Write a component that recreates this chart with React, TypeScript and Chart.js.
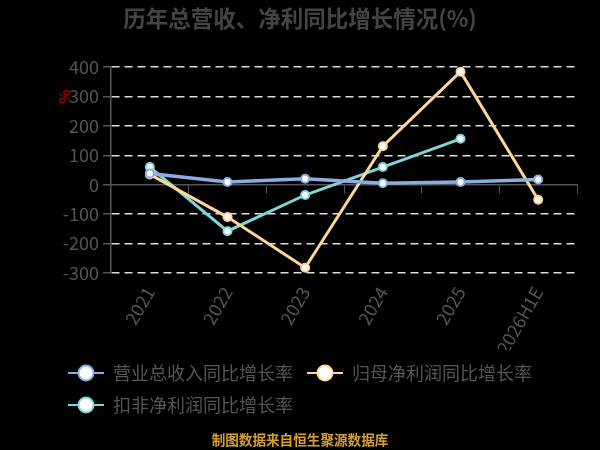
import { useEffect, useRef } from "react";
import Chart from "chart.js/auto";

const categories = ["2021", "2022", "2023", "2024", "2025", "2026H1E"];
const revenueGrowth = [38, 9, 20, 5, 9, 18];
const netProfitGrowth = [35, -110, -282, 131, 384, -51];
const deductedProfitGrowth = [60, -158, -35, 60, 156, null];
const yTicks = [-300, -200, -100, 0, 100, 200, 300, 400];

const FONT = '"Noto Sans CJK SC", "Noto Sans", sans-serif';
const TEXT = "#555";

// legend marker: short line with a hollow circle on it
function legendMarker(color: string) {
  const c = document.createElement("canvas");
  c.width = 36;
  c.height = 20;
  const g = c.getContext("2d")!;
  g.strokeStyle = color;
  g.lineWidth = 2;
  g.beginPath();
  g.moveTo(0, 10);
  g.lineTo(36, 10);
  g.stroke();
  g.beginPath();
  g.arc(18, 10, 7.5, 0, Math.PI * 2);
  g.fillStyle = "#fff";
  g.fill();
  g.stroke();
  return c;
}

const extras = {
  id: "extras",
  afterDraw(chart: Chart) {
    const { ctx } = chart;
    const y = chart.scales.y;
    ctx.save();
    ctx.textAlign = "center";
    ctx.textBaseline = "middle";
    ctx.fillStyle = "#444";
    ctx.font = `bold 22.5px ${FONT}`;
    ctx.fillText("历年总营收、净利同比增长情况(%)", 300, 18);
    ctx.fillStyle = "#d6a030";
    ctx.font = `bold 13.6px ${FONT}`;
    ctx.fillText("制图数据来自恒生聚源数据库", 300, 440);
    ctx.translate(64, y.getPixelForValue(300));
    ctx.rotate(-Math.PI / 2);
    ctx.fillStyle = "#a00000";
    ctx.font = `bold 15px ${FONT}`;
    ctx.fillText("%", 0, 0);
    ctx.restore();
  },
};

export default function App() {
  const chartRef = useRef<HTMLCanvasElement>(null);

  useEffect(() => {
    if (!chartRef.current) return;
    const ctx = chartRef.current.getContext("2d");
    if (!ctx) return;

    const colors = ["#8aaee0", "#ffd699", "#7fd6d9"];
    const markers = colors.map(legendMarker);

    const chart = new Chart(ctx, {
      type: "line",
      data: {
        labels: categories,
        datasets: [
          {
            label: "营业总收入同比增长率",
            data: revenueGrowth,
            borderColor: colors[0],
            borderWidth: 3.5,
          },
          {
            label: "归母净利润同比增长率",
            data: netProfitGrowth,
            borderColor: colors[1],
            borderWidth: 3,
          },
          {
            label: "扣非净利润同比增长率",
            data: deductedProfitGrowth,
            borderColor: colors[2],
            borderWidth: 3,
          },
        ].map((d, i) => ({
          ...d,
          pointBackgroundColor: "#fff",
          pointBorderColor: colors[i],
          pointBorderWidth: 2,
          pointRadius: 4,
          tension: 0,
        })),
      },
      options: {
        responsive: true,
        maintainAspectRatio: false,
        animation: false,
        layout: { padding: { top: 67, left: 54, right: 23, bottom: 26 } },
        plugins: {
          title: { display: false },
          tooltip: { enabled: false },
          legend: {
            position: "bottom",
            align: "start",
            labels: {
              usePointStyle: true,
              pointStyleWidth: 36,
              boxHeight: 18,
              padding: 14,
              color: TEXT,
              font: { size: 18, family: FONT },
              generateLabels: (c) =>
                Chart.defaults.plugins.legend.labels
                  .generateLabels(c)
                  .map((l, i) => ({ ...l, pointStyle: markers[i] })),
            },
          },
        },
        scales: {
          x: {
            offset: true,
            grid: { display: false, drawTicks: false },
            border: { display: false },
            ticks: {
              color: TEXT,
              font: { size: 18, family: FONT },
              minRotation: 60,
              maxRotation: 60,
              padding: 10,
            },
            afterFit: (s) => {
              s.height = 77;
            },
          },
          x0: {
            type: "category",
            labels: categories,
            offset: true,
            position: { y: 0 },
            grid: {
              offset: true,
              drawOnChartArea: false,
              drawTicks: true,
              tickLength: 8,
              tickColor: TEXT,
              color: TEXT,
            },
            border: { display: true, color: TEXT, width: 1.5 },
            ticks: { display: false },
          },
          y: {
            min: -300,
            max: 400,
            afterBuildTicks: (s) => {
              s.ticks = yTicks.map((v) => ({ value: v }));
            },
            grid: {
              color: (c) => (c.tick && c.tick.value === 0 ? "transparent" : "#ddd"),
              lineWidth: 1.5,
              tickColor: TEXT,
              tickLength: 8,
            },
            border: { display: true, color: TEXT, width: 1.5, dash: [8, 5] },
            ticks: {
              color: TEXT,
              padding: 4,
              font: { size: 18, family: FONT },
            },
            afterFit: (s) => {
              s.width = 57;
            },
          },
        },
      },
      plugins: [extras],
    });

    return () => chart.destroy();
  }, []);

  return (
    <div
      style={{
        position: "fixed",
        left: 0,
        top: 0,
        width: 600,
        height: 450,
        background: "#000",
      }}
    >
      <canvas ref={chartRef} />
    </div>
  );
}
